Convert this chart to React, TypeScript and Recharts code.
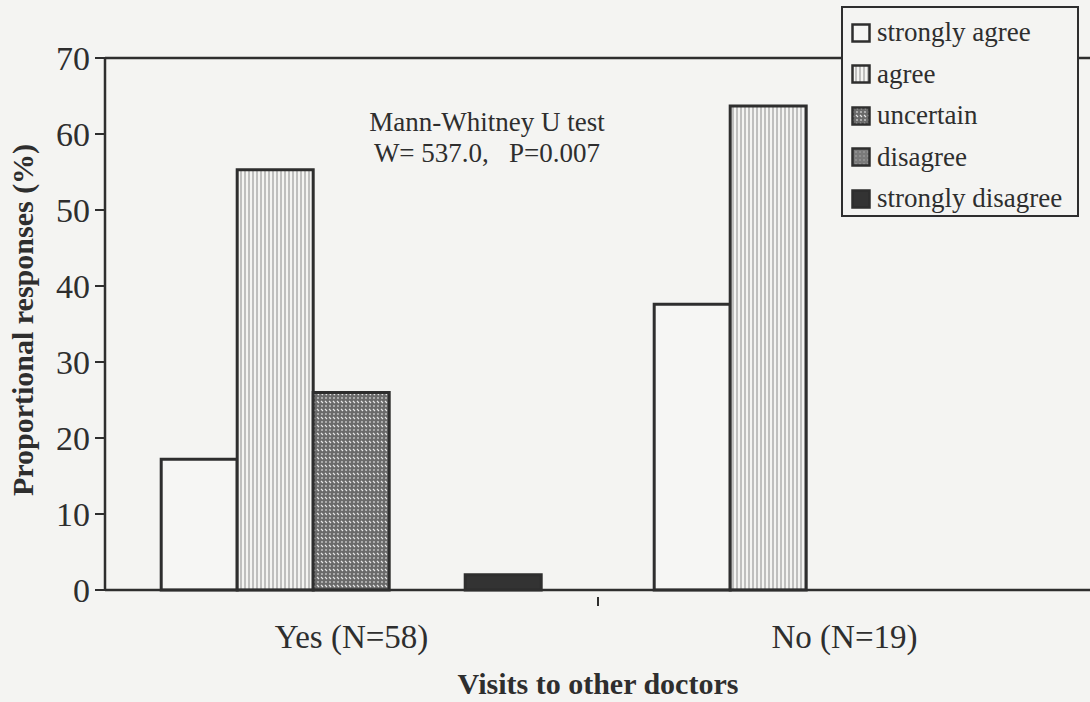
import {
  BarChart,
  Bar,
  XAxis,
  YAxis,
  ReferenceLine,
} from "recharts";

const groups = ["Yes (N=58)", "No (N=19)"];
const stronglyAgree = [17.2, 37.6];
const agree = [55.3, 63.7];
const uncertain = [26.0, 0];
const disagree = [0, 0];
const stronglyDisagree = [2.0, 0];
const yTicks = [0, 10, 20, 30, 40, 50, 60, 70];

const series = [
  { key: "sa", name: "strongly agree", values: stronglyAgree, fill: "#f6f6f4" },
  { key: "a", name: "agree", values: agree, fill: "url(#agreePat)" },
  { key: "u", name: "uncertain", values: uncertain, fill: "url(#uncertainPat)" },
  { key: "d", name: "disagree", values: disagree, fill: "url(#disagreePat)" },
  { key: "sd", name: "strongly disagree", values: stronglyDisagree, fill: "#333" },
];

const data = groups.map((g, i) => {
  const row: Record<string, string | number> = { group: g };
  series.forEach((s) => (row[s.key] = s.values[i]));
  return row;
});

const ink = "#2e2e2e";
const bg = "#f4f4f2";
const serif = "'Liberation Serif', 'Times New Roman', serif";

const Patterns = () => (
  <defs>
    <pattern id="agreePat" width={4} height={4} patternUnits="userSpaceOnUse">
      <rect width={4} height={4} fill="#f4f4f2" />
      <line x1={1} x2={1} y1={0} y2={4} stroke="#8a8a8a" strokeWidth={1} />
    </pattern>
    <pattern id="uncertainPat" width={8} height={8} patternUnits="userSpaceOnUse">
      <rect width={8} height={8} fill="#6a6a6a" />
      <path d="M1 1 L3 3 M5 1 L7 3" stroke="#e6e6e6" strokeWidth={1.2} />
      <circle cx={2} cy={6} r={0.9} fill="#c8c8c8" />
      <circle cx={6} cy={6} r={0.9} fill="#c8c8c8" />
    </pattern>
    <pattern id="disagreePat" width={4} height={4} patternUnits="userSpaceOnUse">
      <rect width={4} height={4} fill="#7a7a7a" />
      <circle cx={1} cy={1} r={0.8} fill="#aaa" />
    </pattern>
  </defs>
);

const XTick = (props: any) => {
  const { x, y, payload } = props;
  return (
    <g>
      <text x={x} y={y + 50} textAnchor="middle" fontSize={33} fontFamily={serif} fill={ink}>
        {payload.value}
      </text>
      {payload.index === 0 && payload.offset ? (
        <line x1={x + payload.offset} x2={x + payload.offset} y1={y - 1} y2={y + 8} stroke={ink} strokeWidth={2} />
      ) : null}
    </g>
  );
};

const LegendBox = () => (
  <div
    style={{
      position: "absolute",
      left: 841,
      top: 6,
      border: `2px solid ${ink}`,
      background: bg,
      width: 238,
      height: 211,
      boxSizing: "border-box",
      padding: "4px 0 0 8px",
      fontFamily: serif,
      fontSize: 27,
      color: ink,
    }}
  >
    {series.map((s) => (
      <div key={s.key} style={{ display: "flex", alignItems: "center", height: 41.5 }}>
        <svg width={20} height={20} style={{ marginRight: 6 }}>
          <rect x={1.5} y={1.5} width={17} height={17} fill={s.fill} stroke={ink} strokeWidth={2.5} />
        </svg>
        <span>{s.name}</span>
      </div>
    ))}
  </div>
);

const YLabel = (props: any) => {
  const { viewBox } = props;
  const cx = viewBox.x + 22;
  const cy = viewBox.y + viewBox.height / 2 - 4;
  return (
    <text
      x={cx}
      y={cy}
      transform={`rotate(-90, ${cx}, ${cy})`}
      textAnchor="middle"
      dominantBaseline="central"
      fontSize={30}
      fontWeight="bold"
      fontFamily={serif}
      fill={ink}
    >
      Proportional responses (%)
    </text>
  );
};

export default function App() {
  return (
    <div style={{ position: "absolute", left: 0, top: 0, width: 1090, height: 702, background: bg }}>
      <BarChart
        width={1090}
        height={702}
        data={data}
        margin={{ top: 58, right: -1, bottom: 0, left: 0 }}
        barCategoryGap="11.4%"
        barGap={0}
      >
        <Patterns />
        <XAxis
          dataKey="group"
          height={112}
          axisLine={{ stroke: ink, strokeWidth: 2.5 }}
          tickLine={false}
          tick={<XTick />}
          interval={0}
          label={{
            value: "Visits to other doctors",
            position: "insideBottom",
            offset: 8,
            style: { fontSize: 30, fontWeight: "bold", fontFamily: serif, fill: ink },
          }}
        />
        <YAxis
          width={105}
          domain={[0, 70]}
          ticks={yTicks}
          interval={0}
          axisLine={{ stroke: ink, strokeWidth: 2.5 }}
          tickLine={{ stroke: ink, strokeWidth: 2 }}
          tickSize={10}
          tickMargin={5}
          tick={{ fontSize: 34, fontFamily: serif, fill: ink }}
          label={<YLabel />}
        />
        <ReferenceLine y={70} stroke={ink} strokeWidth={2.5} />
        {series.map((s) => (
          <Bar
            key={s.key}
            dataKey={s.key}
            name={s.name}
            fill={s.fill}
            stroke={ink}
            strokeWidth={3}
            isAnimationActive={false}
          />
        ))}
      </BarChart>
      <LegendBox />
      <div
        style={{
          position: "absolute",
          left: 337,
          top: 107,
          width: 300,
          textAlign: "center",
          fontFamily: serif,
          fontSize: 27,
          lineHeight: "31px",
          color: ink,
          whiteSpace: "pre",
        }}
      >
        {"Mann-Whitney U test\nW= 537.0,   P=0.007"}
      </div>
    </div>
  );
}
